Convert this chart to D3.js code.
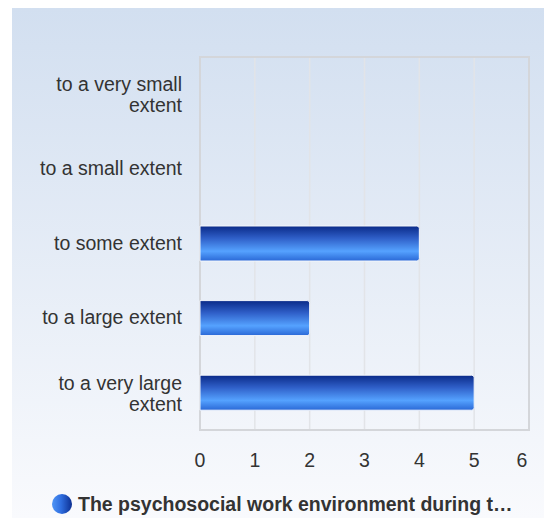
<!DOCTYPE html>
<html><head><meta charset="utf-8">
<script src="https://cdn.jsdelivr.net/npm/d3@7"></script>
<style>body{margin:0;background:#fff;} svg{display:block;}</style>
</head><body>
<svg id="c" width="544" height="518"></svg>
<script>
const categories = [["to a very small","extent"],["to a small extent"],["to some extent"],["to a large extent"],["to a very large","extent"]];
const values = [0, 0, 4, 2, 5];
const xTicks = [0,1,2,3,4,5,6];
const seriesName = "The psychosocial work environment during t…";

const FONT = "Arial, 'Liberation Sans', sans-serif";
const FS = 19.5;
const svg = d3.select("#c");
const defs = svg.append("defs");
const bg = defs.append("linearGradient").attr("id","bg").attr("x1",0).attr("y1",0).attr("x2",0).attr("y2",1);
bg.append("stop").attr("offset","0%").attr("stop-color","#d2dff0");
bg.append("stop").attr("offset","100%").attr("stop-color","#f9fafd");
const bar = defs.append("linearGradient").attr("id","bar").attr("x1",0).attr("y1",0).attr("x2",0).attr("y2",1);
bar.append("stop").attr("offset","0%").attr("stop-color","#0a2a88");
bar.append("stop").attr("offset","35%").attr("stop-color","#2f5fc8");
bar.append("stop").attr("offset","72%").attr("stop-color","#55a2ff");
bar.append("stop").attr("offset","100%").attr("stop-color","#2a68d6");
const lg = defs.append("linearGradient").attr("id","lg").attr("x1",0).attr("y1",0).attr("x2",1).attr("y2",0);
lg.append("stop").attr("offset","0%").attr("stop-color","#4f95f5");
lg.append("stop").attr("offset","45%").attr("stop-color","#2f6ee0");
lg.append("stop").attr("offset","100%").attr("stop-color","#0c2f92");

svg.append("rect").attr("x",12).attr("y",8).attr("width",532).attr("height",510).attr("fill","url(#bg)");

const L=200, R=529, T=57, B=430;
const x = d3.scaleLinear().domain([0,6]).range([L,R]);
const y = d3.scaleBand().domain(categories.map((d,i)=>i)).range([T,B]);

// grid
svg.append("g").selectAll("line").data(xTicks.slice(1,-1)).join("line")
  .attr("x1",d=>x(d)).attr("x2",d=>x(d)).attr("y1",T).attr("y2",B)
  .attr("stroke","#e2e4e8").attr("stroke-width",1.5);
svg.append("rect").attr("x",L).attr("y",T).attr("width",R-L).attr("height",B-T)
  .attr("fill","none").attr("stroke","#d4d6da").attr("stroke-width",2);

// bars
const bh = 35;
svg.append("g").selectAll("path").data(values.map((v,i)=>({v,i})).filter(d=>d.v>0)).join("path")
  .attr("d",d=>{
    const x0=x(0), x1=x(d.v), y0=y(d.i)+y.bandwidth()/2-bh/2, y1=y0+bh, r=2.5;
    return `M${x0},${y0}H${x1-r}Q${x1},${y0} ${x1},${y0+r}V${y1-r}Q${x1},${y1} ${x1-r},${y1}H${x0}Z`;
  })
  .attr("fill","url(#bar)").attr("stroke","#f4f7fc").attr("stroke-width",1);

// category labels
const lab = svg.append("g").attr("font-family",FONT).attr("font-size",FS).attr("fill","#333").attr("text-anchor","end");
categories.forEach((lines,i)=>{
  const cy = y(i)+y.bandwidth()/2;
  const n = lines.length, lh = 21;
  lines.forEach((t,j)=>{
    lab.append("text").attr("x",182).attr("y",cy + (j-(n-1)/2)*lh + 6 + (n>1?1.5:0)).text(t);
  });
});

// x tick labels
svg.append("g").selectAll("text").data(xTicks).join("text")
  .attr("x",d=>d===6? x(d)-7 : x(d)).attr("y",467).attr("text-anchor","middle")
  .attr("font-family",FONT).attr("font-size",FS).attr("fill","#333").text(d=>d);

// legend
svg.append("circle").attr("cx",62).attr("cy",504).attr("r",10).attr("fill","url(#lg)");
svg.append("text").attr("x",78).attr("y",511).attr("font-family",FONT)
  .attr("font-size",FS).attr("font-weight","bold").attr("fill","#333").text(seriesName);
</script>
</body></html>
